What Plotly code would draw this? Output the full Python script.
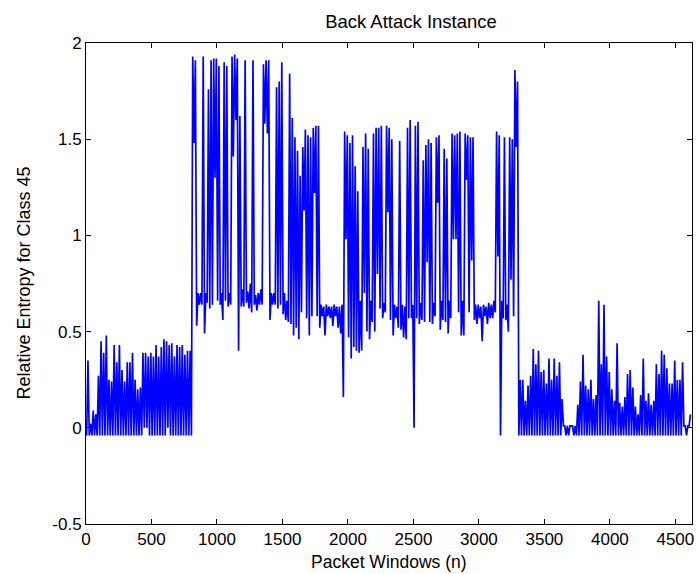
import plotly.graph_objects as go

# Window width (packet windows) used to read min / max of the trace from the picture
STEP = 20

# Normal traffic before the attack: windows 0..39 (x 0-800)
before_hi = [0.35, 0.02, 0.09, 0.07, 0.27, 0.45, 0.39, 0.48, 0.25, 0.24,
             0.43, 0.34, 0.43, 0.30, 0.24, 0.34, 0.34, 0.39, 0.25, 0.20,
             0.21, 0.39, 0.39, 0.37, 0.39, 0.37, 0.43, 0.37, 0.42, 0.46,
             0.45, 0.43, 0.44, 0.37, 0.43, 0.42, 0.43, 0.38, 0.40, 0.40]
before_lo = [-0.04, -0.04, -0.04, -0.04, -0.04, -0.04, -0.04, -0.04, -0.04, -0.04,
             -0.04, -0.04, -0.04, -0.04, -0.04, -0.04, -0.04, -0.04, -0.04, -0.04,
             -0.04, -0.04, 0.00, 0.00, -0.04, -0.04, -0.04, -0.04, -0.04, -0.04,
             -0.04, 0.00, -0.04, -0.04, -0.04, -0.04, -0.04, -0.04, -0.04, -0.04]

# Attack period: windows 40..164 (x 800-3300)
attack_hi = [1.93, 1.91, 0.70, 0.70, 1.93, 0.70, 1.76, 1.91, 1.92, 1.92,
             1.88, 0.70, 1.90, 1.88, 0.70, 1.93, 1.94, 1.92, 1.62, 0.72,
             1.91, 0.71, 0.75, 1.91, 0.69, 0.70, 0.72, 1.89, 1.91, 1.91,
             0.70, 0.70, 1.77, 1.80, 1.90, 0.70, 0.66, 1.84, 1.61, 1.51,
             1.44, 1.31, 1.46, 1.55, 1.52, 1.51, 1.56, 1.57, 1.57, 0.64,
             0.63, 0.64, 0.63, 0.63, 0.64, 0.63, 0.63, 0.64, 1.54, 1.52,
             1.48, 1.52, 1.36, 1.23, 0.66, 1.46, 1.53, 1.45, 0.66, 1.53,
             1.56, 1.56, 1.57, 0.65, 1.57, 1.56, 1.50, 0.64, 0.63, 1.49,
             0.64, 0.63, 1.56, 1.60, 0.64, 1.57, 1.59, 0.65, 1.39, 1.47,
             1.50, 1.48, 0.65, 1.51, 1.52, 0.66, 1.45, 1.40, 0.66, 1.53,
             1.52, 1.53, 1.54, 0.66, 1.53, 1.52, 1.51, 1.51, 0.64, 0.64,
             0.63, 0.64, 0.63, 0.65, 0.64, 0.66, 1.54, 1.52, 0.66, 1.51,
             0.64, 1.51, 1.50, 1.86, 1.80]
attack_lo = [-0.04, 1.48, 0.53, 0.64, 0.64, 0.49, 0.65, 0.62, 0.64, 1.30,
             0.66, 0.64, 0.56, 0.66, 0.63, 0.64, 1.41, 1.60, 0.40, 0.63,
             0.63, 0.65, 0.62, 0.60, 0.64, 0.61, 0.64, 0.64, 1.58, 1.53,
             0.56, 0.64, 0.64, 0.62, 0.64, 0.59, 0.56, 0.55, 0.54, 0.48,
             0.52, 0.46, 0.60, 1.13, 0.57, 0.48, 0.58, 1.22, 0.58, 0.52,
             0.58, 0.48, 0.58, 0.57, 0.53, 0.58, 0.52, 0.49, 0.16, 0.98,
             0.47, 0.36, 0.42, 0.40, 0.39, 0.40, 0.70, 0.50, 0.46, 0.55,
             0.50, 0.80, 0.62, 0.57, 0.60, 1.12, 0.56, 0.48, 0.57, 0.52,
             0.51, 0.47, 0.46, 0.57, 0.57, 0.00, 0.57, 0.54, 0.56, 0.55,
             0.86, 0.55, 0.54, 0.58, 1.17, 0.51, 0.56, 0.55, 0.49, 0.57,
             0.98, 0.98, 0.60, 0.48, 0.48, 1.29, 0.60, 0.87, 0.56, 0.54,
             0.57, 0.45, 0.58, 0.54, 0.57, 0.57, 0.60, 0.89, -0.04, 0.57,
             0.56, 0.50, 0.77, 0.58, 1.46]

# Normal traffic after the attack: windows 165..230 (x 3300-4620)
after_hi = [0.25, 0.25, 0.14, 0.22, 0.27, 0.41, 0.33, 0.40, 0.29, 0.30,
            0.23, 0.36, 0.25, 0.36, 0.27, 0.34, 0.15, 0.01, 0.01, 0.01,
            0.01, 0.01, 0.12, 0.24, 0.38, 0.22, 0.20, 0.25, 0.15, 0.17,
            0.66, 0.33, 0.64, 0.37, 0.29, 0.20, 0.14, 0.44, 0.13, 0.11,
            0.16, 0.28, 0.30, 0.21, 0.11, 0.07, 0.17, 0.36, 0.14, 0.18,
            0.12, 0.14, 0.33, 0.28, 0.40, 0.38, 0.31, 0.23, 0.23, 0.35,
            0.25, 0.25, 0.34, 0.01, 0.01, 0.07]
after_lo = [-0.04, -0.04, -0.04, -0.04, -0.04, -0.04, -0.04, -0.04, -0.04, -0.04,
            -0.04, -0.04, -0.04, -0.04, -0.04, -0.04, -0.04, 0.01, -0.04, -0.04,
            0.01, -0.04, -0.04, -0.04, -0.04, -0.04, -0.04, -0.04, -0.04, -0.04,
            -0.04, -0.04, -0.04, -0.04, -0.04, -0.04, -0.04, -0.04, -0.04, -0.04,
            -0.04, -0.04, -0.04, -0.04, -0.04, -0.04, -0.04, -0.04, -0.04, -0.04,
            -0.04, -0.04, -0.04, -0.04, -0.04, -0.04, -0.04, -0.04, -0.04, -0.04,
            -0.04, -0.04, -0.04, 0.01, -0.04, 0.01]

x_ticks = [0, 500, 1000, 1500, 2000, 2500, 3000, 3500, 4000, 4500]
y_ticks = [-0.5, 0, 0.5, 1, 1.5, 2]
y_tick_labels = ["-0.5", "0", "0.5", "1", "1.5", "2"]

win_hi = before_hi + attack_hi + after_hi
win_lo = before_lo + attack_lo + after_lo

xs, ys = [], []
for i, (lo, hi) in enumerate(zip(win_lo, win_hi)):
    xs += [STEP * i + 5, STEP * i + 15]
    ys += [lo, hi]

FONT = "Liberation Sans, Arial, sans-serif"

fig = go.Figure(go.Scatter(x=xs, y=ys, mode="lines",
                           line=dict(color="#0000ff", width=1.7),
                           hoverinfo="skip", showlegend=False))

axis_common = dict(showgrid=False, zeroline=False, showline=True, linecolor="black",
                   linewidth=1, mirror="allticks", ticks="inside", ticklen=5,
                   tickcolor="black", tickwidth=1, ticklabeloverflow="allow",
                   tickfont=dict(family=FONT, size=17, color="black"))

fig.update_xaxes(range=[0, 4627], tickmode="array", tickvals=x_ticks,
                 ticktext=[str(v) for v in x_ticks], **axis_common)
fig.update_yaxes(range=[-0.5, 2], tickmode="array", tickvals=y_ticks,
                 ticktext=y_tick_labels, **axis_common)

fig.update_layout(
    width=697, height=574,
    margin=dict(l=86, r=3, t=43, b=50),
    paper_bgcolor="white", plot_bgcolor="white",
    title=dict(text="Back Attack Instance", x=411 / 697, xanchor="center",
               y=1 - 22 / 574, yanchor="middle", yref="container",
               font=dict(family=FONT, size=18.5, color="black")),
    annotations=[
        dict(text="Packet Windows (n)", xref="paper", yref="paper", x=0.5, y=0,
             yshift=-38, xanchor="center", yanchor="middle", showarrow=False,
             font=dict(family=FONT, size=17.5, color="black")),
        dict(text="Relative Entropy for Class 45", xref="paper", yref="paper",
             x=0, y=0.5, xshift=-63, xanchor="center", yanchor="middle",
             textangle=-90, showarrow=False,
             font=dict(family=FONT, size=18, color="black")),
    ],
)

fig.write_html("out.html", config={"displayModeBar": False},
               post_script="document.body.style.margin='0';document.body.style.overflow='hidden';")
